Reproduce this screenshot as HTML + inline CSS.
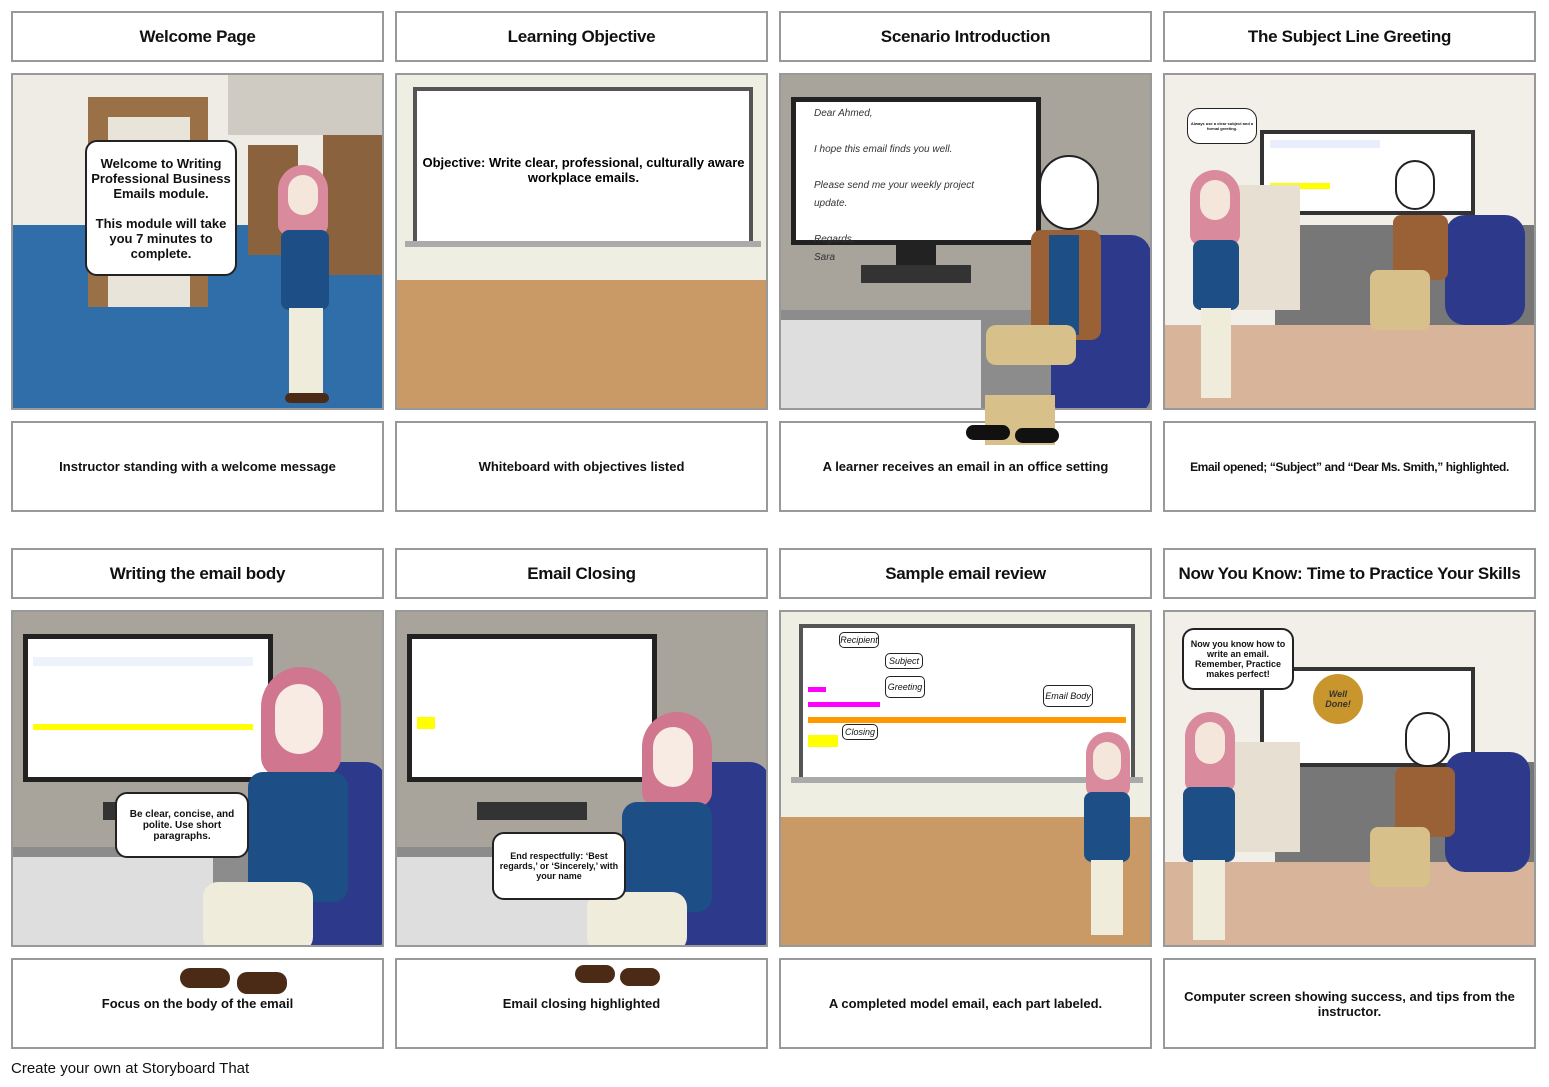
<!DOCTYPE html>
<html><head><meta charset="utf-8"><style>
*{box-sizing:border-box;margin:0;padding:0}
body{width:1549px;height:1087px;background:#fff;position:relative;overflow:hidden;font-family:"Liberation Sans",sans-serif}
.t,.c{position:absolute;width:373px;border:2px solid #999;background:#fff;display:flex;align-items:center;justify-content:center;text-align:center;font-weight:bold;color:#111}
.t{height:51px;font-size:17px;letter-spacing:-0.3px}
.c{height:91px;font-size:13px;padding:0 10px}
.p{position:absolute;width:373px;height:337px;border:2px solid #999;overflow:hidden}
.a{position:absolute}
.b{position:absolute;background:#fff;border:2px solid #222;border-radius:12px;font-weight:bold;text-align:center;color:#111;display:flex;align-items:center;justify-content:center}
</style></head><body>

<div class="t" style="left:11px;top:11px">Welcome Page</div>
<div class="t" style="left:395px;top:11px">Learning Objective</div>
<div class="t" style="left:779px;top:11px">Scenario Introduction</div>
<div class="t" style="left:1163px;top:11px">The Subject Line Greeting</div>

<div class="p" style="left:11px;top:73px;background:#efece6">
 <div class="a" style="left:215px;top:0;width:160px;height:60px;background:#cfcbc3"></div>
 <div class="a" style="left:0;top:150px;width:373px;height:190px;background:#2f6ea8"></div>
 <div class="a" style="left:75px;top:22px;width:120px;height:210px;background:#9a7047"></div>
 <div class="a" style="left:95px;top:42px;width:82px;height:190px;background:#e9e4da"></div>
 <div class="a" style="left:235px;top:70px;width:50px;height:110px;background:#8a623e"></div>
 <div class="a" style="left:310px;top:60px;width:60px;height:140px;background:#8a623e"></div>
 <div class="a" style="left:265px;top:90px;width:50px;height:70px;background:#d98a9c;border-radius:25px 25px 10px 10px"></div>
 <div class="a" style="left:275px;top:100px;width:30px;height:40px;background:#f5e6dc;border-radius:15px"></div>
 <div class="a" style="left:268px;top:155px;width:48px;height:80px;background:#1d4f86;border-radius:8px"></div>
 <div class="a" style="left:276px;top:233px;width:34px;height:90px;background:#f0ecdc"></div>
 <div class="a" style="left:272px;top:318px;width:44px;height:10px;background:#4b2a16;border-radius:5px"></div>
 <div class="b" style="left:72px;top:65px;width:152px;height:136px;font-size:13px;line-height:15px">Welcome to Writing Professional Business Emails module.<br><br>This module will take you 7 minutes to complete.</div>
</div>

<div class="p" style="left:395px;top:73px;background:#efeee3">
 <div class="a" style="left:0;top:205px;width:373px;height:140px;background:#c99a66"></div>
 <div class="a" style="left:16px;top:12px;width:340px;height:160px;background:#fff;border:4px solid #555"></div>
 <div class="a" style="left:8px;top:166px;width:356px;height:6px;background:#aaa"></div>
 <div class="a" style="left:20px;top:80px;width:333px;text-align:center;font-weight:bold;font-size:13px;line-height:15px">Objective: Write clear, professional, culturally aware workplace emails.</div>
</div>

<div class="p" style="left:779px;top:73px;background:#a8a39b">
 <div class="a" style="left:0;top:235px;width:373px;height:110px;background:#8c8c8c"></div>
 <div class="a" style="left:0;top:245px;width:200px;height:100px;background:#dedede"></div>
 <div class="a" style="left:10px;top:22px;width:250px;height:148px;background:#fff;border:5px solid #222"></div>
 <div class="a" style="left:115px;top:170px;width:40px;height:20px;background:#222"></div>
 <div class="a" style="left:80px;top:190px;width:110px;height:18px;background:#333"></div>
 <div class="a" style="left:33px;top:30px;font-style:italic;font-size:10px;line-height:18px;color:#333">Dear Ahmed,<br><br>I hope this email finds you well.<br><br>Please send me your weekly project<br>update.<br><br>Regards,<br>Sara</div>
 <div class="a" style="left:270px;top:160px;width:100px;height:180px;background:#2d3a8c;border-radius:20px"></div>
 <div class="a" style="left:258px;top:80px;width:60px;height:75px;background:#fff;border:2px solid #222;border-radius:30px"></div>
 <div class="a" style="left:250px;top:155px;width:70px;height:110px;background:#9a6137;border-radius:10px"></div>
 <div class="a" style="left:268px;top:160px;width:30px;height:100px;background:#1d4f86"></div>
 <div class="a" style="left:205px;top:250px;width:90px;height:40px;background:#d8c08a;border-radius:10px"></div>
</div>

<div class="p" style="left:1163px;top:73px;background:#f2efe8">
 <div class="a" style="left:0;top:250px;width:373px;height:100px;background:#d8b49a"></div>
 <div class="a" style="left:110px;top:150px;width:263px;height:100px;background:#777"></div>
 <div class="a" style="left:95px;top:55px;width:215px;height:85px;background:#fff;border:4px solid #333"></div>
 <div class="a" style="left:105px;top:65px;width:110px;height:8px;background:#e8eefc"></div>
 <div class="a" style="left:105px;top:108px;width:60px;height:6px;background:#ff0"></div>
 <div class="a" style="left:60px;top:110px;width:75px;height:125px;background:#e6dfd2"></div>
 <div class="a" style="left:25px;top:95px;width:50px;height:75px;background:#d98a9c;border-radius:25px 25px 10px 10px"></div>
 <div class="a" style="left:35px;top:105px;width:30px;height:40px;background:#f5e6dc;border-radius:15px"></div>
 <div class="a" style="left:28px;top:165px;width:46px;height:70px;background:#1d4f86;border-radius:8px"></div>
 <div class="a" style="left:36px;top:233px;width:30px;height:90px;background:#f0ecdc"></div>
 <div class="a" style="left:280px;top:140px;width:80px;height:110px;background:#2d3a8c;border-radius:20px"></div>
 <div class="a" style="left:230px;top:85px;width:40px;height:50px;background:#fff;border:2px solid #222;border-radius:20px"></div>
 <div class="a" style="left:228px;top:140px;width:55px;height:65px;background:#9a6137;border-radius:8px"></div>
 <div class="a" style="left:205px;top:195px;width:60px;height:60px;background:#d8c08a;border-radius:8px"></div>
 <div class="b" style="left:22px;top:33px;width:70px;height:36px;font-size:4px;border-width:1px">Always use a clear subject and a formal greeting.</div>
</div>

<div class="c" style="left:11px;top:421px">Instructor standing with a welcome message</div>
<div class="c" style="left:395px;top:421px">Whiteboard with objectives listed</div>
<div class="c" style="left:779px;top:421px">A learner receives an email in an office setting</div>
<div class="c" style="left:1163px;top:421px;font-size:12px;letter-spacing:-0.4px;padding:0 4px">Email opened; “Subject” and “Dear Ms. Smith,” highlighted.</div>
<div class="a" style="left:985px;top:395px;width:70px;height:50px;background:#d8c08a"></div>
<div class="a" style="left:966px;top:425px;width:44px;height:15px;background:#111;border-radius:8px"></div>
<div class="a" style="left:1015px;top:428px;width:44px;height:15px;background:#111;border-radius:8px"></div>

<div class="t" style="left:11px;top:548px">Writing the email body</div>
<div class="t" style="left:395px;top:548px">Email Closing</div>
<div class="t" style="left:779px;top:548px">Sample email review</div>
<div class="t" style="left:1163px;top:548px">Now You Know: Time to Practice Your Skills</div>

<div class="p" style="left:11px;top:610px;background:#a8a39b">
 <div class="a" style="left:0;top:235px;width:373px;height:110px;background:#8c8c8c"></div>
 <div class="a" style="left:0;top:245px;width:200px;height:100px;background:#dedede"></div>
 <div class="a" style="left:10px;top:22px;width:250px;height:148px;background:#fff;border:5px solid #222"></div>
 <div class="a" style="left:20px;top:45px;width:220px;height:9px;background:#eef2fb"></div>
 <div class="a" style="left:20px;top:112px;width:220px;height:6px;background:#ff0"></div>
 <div class="a" style="left:90px;top:190px;width:110px;height:18px;background:#333"></div>
 <div class="a" style="left:260px;top:150px;width:113px;height:190px;background:#2d3a8c;border-radius:20px"></div>
 <div class="a" style="left:248px;top:55px;width:80px;height:110px;background:#d0778f;border-radius:40px 40px 20px 20px"></div>
 <div class="a" style="left:262px;top:72px;width:48px;height:70px;background:#f7ebe3;border-radius:24px"></div>
 <div class="a" style="left:235px;top:160px;width:100px;height:130px;background:#1d4f86;border-radius:15px"></div>
 <div class="a" style="left:190px;top:270px;width:110px;height:70px;background:#f0ecdc;border-radius:15px"></div>
 <div class="b" style="left:102px;top:180px;width:134px;height:66px;font-size:10px;line-height:11px">Be clear, concise, and polite. Use short paragraphs.</div>
</div>

<div class="p" style="left:395px;top:610px;background:#a8a39b">
 <div class="a" style="left:0;top:235px;width:373px;height:110px;background:#8c8c8c"></div>
 <div class="a" style="left:0;top:245px;width:200px;height:100px;background:#dedede"></div>
 <div class="a" style="left:10px;top:22px;width:250px;height:148px;background:#fff;border:5px solid #222"></div>
 <div class="a" style="left:20px;top:105px;width:18px;height:12px;background:#ff0"></div>
 <div class="a" style="left:80px;top:190px;width:110px;height:18px;background:#333"></div>
 <div class="a" style="left:260px;top:150px;width:113px;height:190px;background:#2d3a8c;border-radius:20px"></div>
 <div class="a" style="left:245px;top:100px;width:70px;height:95px;background:#d0778f;border-radius:35px 35px 15px 15px"></div>
 <div class="a" style="left:256px;top:115px;width:40px;height:60px;background:#f7ebe3;border-radius:20px"></div>
 <div class="a" style="left:225px;top:190px;width:90px;height:110px;background:#1d4f86;border-radius:15px"></div>
 <div class="a" style="left:190px;top:280px;width:100px;height:60px;background:#f0ecdc;border-radius:15px"></div>
 <div class="b" style="left:95px;top:220px;width:134px;height:68px;font-size:9px;line-height:10px">End respectfully: ‘Best regards,’ or ‘Sincerely,’ with your name</div>
</div>

<div class="p" style="left:779px;top:610px;background:#efeee3">
 <div class="a" style="left:0;top:205px;width:373px;height:140px;background:#c99a66"></div>
 <div class="a" style="left:18px;top:12px;width:336px;height:158px;background:#fff;border:4px solid #555"></div>
 <div class="a" style="left:10px;top:165px;width:352px;height:6px;background:#aaa"></div>
 <div class="a" style="left:27px;top:75px;width:18px;height:5px;background:#f0f"></div>
 <div class="a" style="left:27px;top:90px;width:72px;height:5px;background:#f0f"></div>
 <div class="a" style="left:27px;top:105px;width:318px;height:6px;background:#f90"></div>
 <div class="a" style="left:27px;top:123px;width:30px;height:12px;background:#ff0"></div>
 <div class="b" style="left:58px;top:20px;width:40px;height:16px;font-size:9px;font-weight:normal;font-style:italic;border-width:1px;border-radius:5px">Recipient</div>
 <div class="b" style="left:104px;top:41px;width:38px;height:16px;font-size:9px;font-weight:normal;font-style:italic;border-width:1px;border-radius:5px">Subject</div>
 <div class="b" style="left:104px;top:64px;width:40px;height:22px;font-size:9px;font-weight:normal;font-style:italic;border-width:1px;border-radius:5px">Greeting</div>
 <div class="b" style="left:262px;top:73px;width:50px;height:22px;font-size:9px;font-weight:normal;font-style:italic;border-width:1px;border-radius:5px">Email Body</div>
 <div class="b" style="left:61px;top:112px;width:36px;height:16px;font-size:9px;font-weight:normal;font-style:italic;border-width:1px;border-radius:5px">Closing</div>
 <div class="a" style="left:305px;top:120px;width:44px;height:65px;background:#d98a9c;border-radius:22px 22px 10px 10px"></div>
 <div class="a" style="left:312px;top:130px;width:28px;height:38px;background:#f5e6dc;border-radius:14px"></div>
 <div class="a" style="left:303px;top:180px;width:46px;height:70px;background:#1d4f86;border-radius:8px"></div>
 <div class="a" style="left:310px;top:248px;width:32px;height:75px;background:#f0ecdc"></div>
</div>

<div class="p" style="left:1163px;top:610px;background:#f2efe8">
 <div class="a" style="left:0;top:250px;width:373px;height:100px;background:#d8b49a"></div>
 <div class="a" style="left:110px;top:150px;width:263px;height:100px;background:#777"></div>
 <div class="a" style="left:95px;top:55px;width:215px;height:100px;background:#fff;border:4px solid #333"></div>
 <div class="a" style="left:148px;top:62px;width:50px;height:50px;background:#c8962c;border-radius:50%;color:#333;font-size:9px;font-weight:bold;font-style:italic;display:flex;align-items:center;justify-content:center;text-align:center;line-height:10px">Well<br>Done!</div>
 <div class="a" style="left:60px;top:130px;width:75px;height:110px;background:#e6dfd2"></div>
 <div class="a" style="left:20px;top:100px;width:50px;height:80px;background:#d98a9c;border-radius:25px 25px 10px 10px"></div>
 <div class="a" style="left:30px;top:110px;width:30px;height:42px;background:#f5e6dc;border-radius:15px"></div>
 <div class="a" style="left:18px;top:175px;width:52px;height:75px;background:#1d4f86;border-radius:8px"></div>
 <div class="a" style="left:28px;top:248px;width:32px;height:80px;background:#f0ecdc"></div>
 <div class="a" style="left:280px;top:140px;width:85px;height:120px;background:#2d3a8c;border-radius:20px"></div>
 <div class="a" style="left:240px;top:100px;width:45px;height:55px;background:#fff;border:2px solid #222;border-radius:22px"></div>
 <div class="a" style="left:230px;top:155px;width:60px;height:70px;background:#9a6137;border-radius:8px"></div>
 <div class="a" style="left:205px;top:215px;width:60px;height:60px;background:#d8c08a;border-radius:8px"></div>
 <div class="b" style="left:17px;top:16px;width:112px;height:62px;font-size:9px;line-height:10px">Now you know how to write an email. Remember, Practice makes perfect!</div>
</div>

<div class="c" style="left:11px;top:958px">Focus on the body of the email</div>
<div class="c" style="left:395px;top:958px">Email closing highlighted</div>
<div class="c" style="left:779px;top:958px">A completed model email, each part labeled.</div>
<div class="c" style="left:1163px;top:958px">Computer screen showing success, and tips from the instructor.</div>
<div class="a" style="left:180px;top:968px;width:50px;height:20px;background:#4b2a16;border-radius:10px"></div>
<div class="a" style="left:237px;top:972px;width:50px;height:22px;background:#4b2a16;border-radius:10px"></div>
<div class="a" style="left:575px;top:965px;width:40px;height:18px;background:#4b2a16;border-radius:10px"></div>
<div class="a" style="left:620px;top:968px;width:40px;height:18px;background:#4b2a16;border-radius:10px"></div>

<div class="a" style="left:11px;top:1060px;font-size:15px;color:#111">Create your own at Storyboard That</div>
</body></html>
